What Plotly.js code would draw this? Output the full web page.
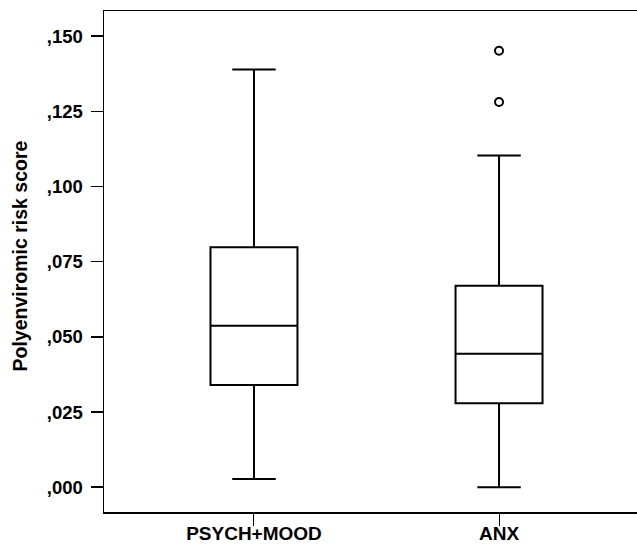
<!DOCTYPE html>
<html>
<head>
<meta charset="utf-8">
<script src="https://cdn.plot.ly/plotly-3.0.1.min.js"></script>
<style>html,body{margin:0;padding:0;background:#fff;}#chart{width:637px;height:548px;}</style>
</head>
<body>
<div id="chart"></div>
<script>
// Data
const categories = ["PSYCH+MOOD", "ANX"];
const lowerWhisker = [0.0027, 0.0000];
const q1Values = [0.0340, 0.0279];
const medianValues = [0.0537, 0.0444];
const q3Values = [0.0798, 0.0670];
const upperWhisker = [0.1389, 0.1103];
const outlierCategory = ["ANX", "ANX"];
const outlierValues = [0.1451, 0.1281];
const yTickValues = [0, 0.025, 0.05, 0.075, 0.1, 0.125, 0.15];
const yTickLabels = [",000", ",025", ",050", ",075", ",100", ",125", ",150"];
const yTitle = "Polyenviromic risk score";

const fontFam = "Liberation Sans, Arial, Helvetica, sans-serif";

const boxTrace = {
  type: "box",
  x: categories,
  q1: q1Values,
  median: medianValues,
  q3: q3Values,
  lowerfence: lowerWhisker,
  upperfence: upperWhisker,
  boxpoints: false,
  width: 0.355,
  whiskerwidth: 0.5,
  fillcolor: "#ffffff",
  line: {color: "#000000", width: 2},
  hoverinfo: "skip",
  showlegend: false
};

const outlierTrace = {
  type: "scatter",
  mode: "markers",
  x: outlierCategory,
  y: outlierValues,
  marker: {symbol: "circle-open", size: 8, color: "#000000", line: {width: 2, color: "#000000"}},
  hoverinfo: "skip",
  showlegend: false
};

const layout = {
  width: 637,
  height: 548,
  margin: {l: 104, r: 0, t: 11, b: 36},
  paper_bgcolor: "#ffffff",
  plot_bgcolor: "#ffffff",
  showlegend: false,
  font: {family: fontFam, color: "#000000", size: 18, weight: 700},
  xaxis: {
    type: "category",
    range: [-0.612, 1.563],
    showline: true,
    mirror: true,
    linecolor: "#000000",
    linewidth: 1.5,
    ticks: "outside",
    ticklen: 12,
    tickwidth: 1,
    tickcolor: "#000000",
    ticklabelstandoff: -8,
    showgrid: false,
    zeroline: false,
    tickfont: {family: fontFam, size: 19, color: "#000000", weight: 700},
    fixedrange: true
  },
  yaxis: {
    range: [-0.00823, 0.15833],
    tickmode: "array",
    tickvals: yTickValues,
    ticktext: yTickLabels,
    showline: true,
    mirror: false,
    linecolor: "#000000",
    linewidth: 1.5,
    ticks: "outside",
    ticklen: 12,
    tickwidth: 1.5,
    tickcolor: "#000000",
    ticklabelstandoff: 4,
    showgrid: false,
    zeroline: false,
    tickfont: {family: fontFam, size: 18.5, color: "#000000", weight: 700},
    fixedrange: true
  },
  annotations: [{
    text: yTitle,
    xref: "paper", yref: "paper",
    x: (20 - 104) / 533, y: 0.51,
    xanchor: "center", yanchor: "middle",
    textangle: -90,
    showarrow: false,
    font: {family: fontFam, size: 19.5, color: "#000000", weight: 700}
  }]
};

Plotly.newPlot("chart", [boxTrace, outlierTrace], layout, {displayModeBar: false, staticPlot: true});
</script>
</body>
</html>
